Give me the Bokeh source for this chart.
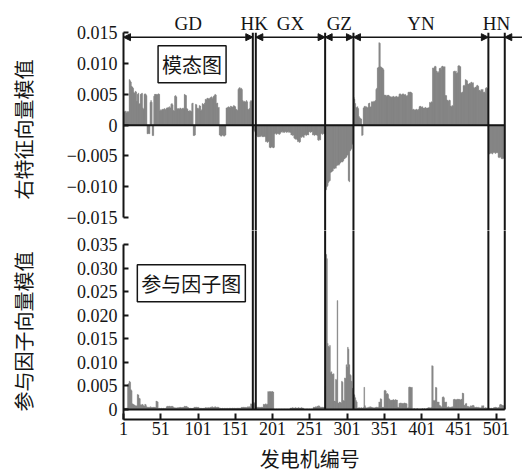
import numpy as np
from bokeh.plotting import figure
from bokeh.models import (ColumnDataSource, Range1d, FixedTicker, CustomJSTickFormatter,
                          Label, Arrow, NormalHead)
from bokeh.layouts import column, row
from bokeh.embed import file_html
from bokeh.resources import INLINE

# ---------------- data (values in units of 1e-4) ----------------
region_names = ["GD", "HK", "GX", "GZ", "YN", "HN"]

# right eigenvector (mode shape) magnitude per generator
gd_mode = [20, 22, 21, 23, 20, 22, 21, 22, 74, 72, 70, 63, 62, 60, 53, 52, 55, 54, 39, 50,
           52, 34, 35, 50, 51, 52, 28, 26, 50, 51, 50, 48, -14, -14, -13, -14, 37, 40,
           37, -17, -17, 47, 50, 50, 50, 49, 50, 51, 50, 23,
           25, 24, 26, 25, 26, 27, 25, 26, 28, 28, 29, 27, 30, 28, 34, 35, 33, 24, 23,
           47, 48, 46, 27, 26, 27, 26, 28, 27, 26, 27, 28, 26, 50, 49, 48, 27, 26, 23, 22,
           24, 23, 22, 35, 36, -17, -17, -16, 34, 33, 27, 28, 26, 32, 31, 23, 25,
           35, 34, 33, 36, 42, 41, 43, 44, 43, 42, 44, 45, 46, 43, 45, 47, 48, 50, 49, 35, 36,
           28, 29, -16, -17, -18, -17, -16, -17, -18, -17, -16, 28,
           28, 29, 30, 29, 28, 31, 30, 29, 30, 32, 31, 30, 26, 25, 24, 58, 60,
           61, 59, 60, 58, 40, 38, 39, 37, 38, 40, 38, 26, 25, 27, 38, 40, 39, 40]
hk_mode = [-5, -8, -10, -12]
gx_mode = [-16, -17, -19, -19, -18, -19, -18, -17, -19, -18, -19, -18, -19,
           -27, -26, -28, -27, -26, -36, -37, -36, -35, -36, -37, -36,
           -14, -13, -15, -14, -13, -14, -15, -14,
           -12, -11, -10, -12, -11, -12, -10, -11, -12, -11, -10, -12, -11, -12,
           -16, -15, -17, -16, -21, -22, -23, -22, -24, -27, -26, -28, -27,
           -19, -20, -18, -19, -20, -16, -15, -17, -16, -15, -16, -11, -10, -12, -11, -10,
           -16, -15, -17, -16, -15, -16, -17, -24, -25, -23, -24, -14, -13, -15, -14, -13, -14]
gz_mode = [-103, -105, -100, -98, -93, -91, -90, -77, -76, -75, -74, -70, -71, -69, -70,
           -66, -65, -64, -65, -63, -61, -60, -59, -60, -58, -55, -54, -53, -52,
           -49, -48, -90, -92, -42, -40, -38, -31, -29]
yn_mode = [45, 42, 35, 29, 28, 30, 27, 14, 12, 11, 10, -17, -16, 28, 30, 31, 29, 30,
           28, 29, 35, 36, 29, 30, 38, 38, 37, 39, 38, 40, 58, 60, 93, 94, 134, 133, 95,
           94, 93, 92, 90, 49, 48, 49, 47, 48, 49, 48, 47, 46,
           46, 45, 46, 47, 46, 45, 46, 47, 46, 45, 46, 50, 51, 50, 49, 50, 51, 50, 49, 50,
           48, 47, 48, 53, 54, 53, 54, 53, 52, 25, 26, 25, 24, 25, 26, 25, 24, 26,
           30, 31, 30, 29, 30, 28, 27, 28, 29, 28, 27, 28, 28, 29, 37, 36, 38, 37,
           93, 92, 94, 96, 95, 88, 85, 87, 85, 92, 93, 90, 95, 96, 95, 94, 95, 48,
           48, 41, 40, 39, 41, 40, 31, 30, 32, 31, 87, 88, 86, 88, 84, 85, 96, 97, 96, 95,
           53, 52, 54, 64, 65, 63, 74, 73, 72, 67, 66, 68, 67, 69, 70, 68, 69,
           61, 60, 62, 61, 64, 65, 63, 56, 57, 55, 58, 57, 58, 53, 54, 52, 60, 61, 59, 60]
hn_mode = [-46, -47, -45, -46, -45, -47, -44, -45, -44, -46, -45, -44, -45,
           -52, -53, -51, -52, -54, -55, -53, -54, -55]

# participation factor magnitude per generator
gd_pf = [2, 3, 3, 2, 3, 3, 53, 55, 60, 58, 42, 40, 12, 11, 10, 9, 8, 7, 8, 32, 31,
         24, 23, 10, 9, 11, 10, 8, 7, 11, 10, 6, 5, 4, 5, 4, 6, 4, 5, 4, 5, 4, 5, 4,
         18, 17, 16, 2, 3, 2, 2, 3, 2, 2, 3, 2, 2, 3, 6, 7, 6, 7, 7, 6, 7, 6, 7, 5,
         3, 4, 3, 3, 4, 3, 4, 4, 5, 4, 4, 4, 5, 4, 7, 6, 7, 6, 5, 4, 3, 2, 3, 2, 3, 2, 3,
         5, 4, 5, 5, 4, 5, 4, 2, 3, 2, 3, 2, 3, 2, 3, 4, 3, 4, 3, 4, 3, 4, 5,
         5, 6, 5, 4, 5, 6, 5, 4, 5, 5, 4, 2, 3, 2, 2, 3, 2, 2, 3, 2, 2, 3, 2, 2, 3, 2,
         3, 2, 3, 3, 2, 3, 2, 3, 2, 3, 3, 2, 3, 2, 4, 5, 4, 5, 4, 5, 4, 4, 5,
         6, 5, 6, 5, 12, 11, 10]
hk_pf = [12, 15, 13, 10]
gx_pf = [5, 4, 5, 5, 4, 5, 4, 5, 5, 4, 11, 10, 11, 12, 10, 11, 38, 37, 38, 38, 37, 38, 38, 37,
         1, 1, 0, 1, 1, 0, 1, 1, 1, 0, 1, 1, 0, 1, 1, 1, 0, 1, 1, 0, 1, 1,
         3, 3, 3, 4, 3, 3, 3, 4, 3, 3, 3, 4, 3, 3, 3, 4, 3, 3,
         1, 1, 0, 1, 1, 1, 0, 1, 1, 0, 1, 1, 1, 5, 4, 5, 6, 5, 7, 6, 8, 7, 5, 4, 5, 5, 4, 5, 4]
gz_pf = [50, 329, 320, 140, 134, 132, 136, 78, 80, 75, 74, 76, 18, 17, 64, 62, 231,
         14, 13, 16, 15, 14, 60, 58, 19, 18, 67, 66, 95, 90, 132, 128, 95, 74, 72, 60, 45, 40]
yn_pf = [33, 30, 25, 19, 16, 3, 3, 4, 3, 3, 4, 3, 3, 4, 47, 8, 4, 3, 4, 3, 5, 5, 6, 5, 5,
         4, 3, 4, 3, 4, 5, 5, 4, 5, 16, 15, 23, 22, 5, 4, 5, 40, 41, 39, 33, 34, 32, 23, 22,
         19, 20, 19, 20, 21, 20, 19, 21, 20, 20, 5, 4, 13, 13, 14, 13, 13, 12, 13, 14, 13, 13, 12,
         3, 4, 47, 48, 47, 46, 47, 1, 1, 2, 1, 1, 1, 2, 1, 1, 1, 1, 1, 1, 2, 1, 1, 2, 1, 1, 2,
         3, 4, 3, 4, 3, 4, 93, 92, 19, 18, 20, 47, 46, 16, 15, 16, 9, 8, 5, 6, 26, 27, 25,
         16, 15, 16, 5, 5, 6, 5, 4, 5, 5, 6, 5, 21, 22, 21, 20, 21, 22, 21, 22, 21, 20, 22, 21,
         35, 34, 9, 8, 12, 13, 6, 7, 6, 5, 6, 8, 7, 8, 9, 8, 5, 4, 5, 5, 4, 5, 3, 4, 3, 4,
         8, 7, 8, 3, 3, 4, 3, 3, 3]
hn_pf = [3, 3, 2, 3, 3, 2, 3, 4, 4, 5, 4, 4, 3, 4, 5, 10, 11, 10, 9, 8, 8, 9]

x_ticks = [1, 51, 101, 151, 201, 251, 301, 351, 401, 451, 501]
mode_ticks = [-0.015, -0.010, -0.005, 0.0, 0.005, 0.010, 0.015]
pf_ticks = [0.0, 0.005, 0.010, 0.015, 0.020, 0.025, 0.030, 0.035]

mode_parts = [gd_mode, hk_mode, gx_mode, gz_mode, yn_mode, hn_mode]
pf_parts = [gd_pf, hk_pf, gx_pf, gz_pf, yn_pf, hn_pf]
region_sizes = [len(p) for p in mode_parts]
mode_vals = [v * 1e-4 for part in mode_parts for v in part]
pf_vals = [v * 1e-4 for part in pf_parts for v in part]
gen_ids = list(range(1, len(mode_vals) + 1))

boundaries = [float(b) for b in (np.cumsum(region_sizes) + 0.5)]
starts = [1.0] + boundaries[:-1]
centers = [(a + b) / 2 for a, b in zip(starts, boundaries)]

src = ColumnDataSource(dict(x=gen_ids, mode=mode_vals, pf=pf_vals))

# ---------------- styling / layout constants ----------------
SERIF = "Liberation Serif"
CJK = "Noto Sans CJK SC"
BAR = "#7e7e7e"
INK = "#151515"
TOTAL_W = 522
TOTAL_H = 473
STRIP = 46          # left strip holding the rotated y titles
LEFT = 123          # page x of the plot frames
W = TOTAL_W - STRIP
PX_PER_GEN = 0.7454
PX_PER_MODE = 6157.0

xr = Range1d(1, 1 + (TOTAL_W - LEFT) / PX_PER_GEN)

fmt = CustomJSTickFormatter(code="""
if (Math.abs(tick) < 1e-12) { return "0"; }
const s = Math.abs(tick).toFixed(3);
return (tick < 0 ? "\u2212" : "") + s;
""")


def style_yaxis(ax, ticks, bounds):
    ax.ticker = FixedTicker(ticks=ticks)
    ax.formatter = fmt
    ax.bounds = bounds
    ax.major_label_text_font = SERIF
    ax.major_label_text_font_size = "18px"
    ax.major_label_text_color = INK
    ax.major_label_standoff = 6
    ax.axis_line_width = 2
    ax.axis_line_color = INK
    ax.major_tick_line_width = 2
    ax.major_tick_line_color = INK
    ax.major_tick_in = 5
    ax.major_tick_out = 0
    ax.minor_tick_line_color = None


def base_fig(width, height, xrange, yr, **kw):
    p = figure(width=width, height=height, x_range=xrange, y_range=yr, title=None,
               output_backend="svg", toolbar_location=None, **kw)
    p.outline_line_color = None
    p.xgrid.grid_line_color = None
    p.ygrid.grid_line_color = None
    p.background_fill_color = "white"
    p.border_fill_color = "white"
    return p


# ---------------- top: mode shape ----------------
p1 = base_fig(W, 230, xr, Range1d(-0.01711, 0.015 + 32.3 / PX_PER_MODE),
              x_axis_location=None, min_border_left=LEFT - STRIP, min_border_right=0,
              min_border_top=0, min_border_bottom=0)
style_yaxis(p1.yaxis[0], mode_ticks, (-0.015, 0.015))

p1.vbar(x="x", top="mode", bottom=0, width=1.0, source=src, fill_color=BAR,
        line_color=BAR, line_width=0.4)
p1.segment(x0=[1], y0=[0], x1=[boundaries[-1]], y1=[0], line_width=2, line_color=INK)
nb = len(boundaries)
p1.segment(x0=boundaries, y0=[0.015] * nb, x1=boundaries, y1=[-0.03] * nb,
           line_width=2, line_color=INK)

y_arrow = 0.015 - 4.4 / PX_PER_MODE
y_name = 0.015 + 9.5 / PX_PER_MODE


def head():
    return NormalHead(size=7, fill_color=INK, line_color=INK, line_width=1)


for i, name in enumerate(region_names):
    p1.add_layout(Label(x=centers[i], y=y_name, text=name, text_align="center",
                        text_baseline="alphabetic", text_font=SERIF, text_font_size="19px",
                        text_color=INK))
    if name == "HK":
        continue
    if name == "HN":
        p1.add_layout(Arrow(start=None, end=None, x_start=starts[i], y_start=y_arrow,
                            x_end=boundaries[i], y_end=y_arrow, line_width=1.5, line_color=INK))
        p1.add_layout(Arrow(start=None, end=head(), x_start=xr.end, y_start=y_arrow,
                            x_end=boundaries[i], y_end=y_arrow, line_width=1.5, line_color=INK))
        continue
    p1.add_layout(Arrow(start=head(), end=head(), x_start=starts[i], y_start=y_arrow,
                        x_end=boundaries[i], y_end=y_arrow, line_width=1.5, line_color=INK))

p1.add_layout(Label(x=93, y=0.0099, text="模态图", text_align="center", text_baseline="middle",
                    text_font=CJK, text_font_size="20px", text_color=INK,
                    border_line_color=INK, border_line_width=1.5,
                    background_fill_color="white", padding=4))

# ---------------- bottom: participation factor ----------------
p2 = base_fig(W, 213, xr, Range1d(-0.00212, 0.03797), min_border_left=LEFT - STRIP,
              min_border_right=0, min_border_top=0, min_border_bottom=24)
style_yaxis(p2.yaxis[0], pf_ticks, (-0.00212, 0.035))

xa = p2.xaxis[0]
xa.ticker = FixedTicker(ticks=x_ticks)
xa.bounds = (1, 513.5)
xa.major_label_text_font = SERIF
xa.major_label_text_font_size = "18px"
xa.major_label_text_color = INK
xa.major_label_standoff = 2
xa.axis_line_width = 2
xa.axis_line_color = INK
xa.major_tick_line_width = 2
xa.major_tick_line_color = INK
xa.major_tick_in = 6
xa.major_tick_out = 0
xa.minor_tick_line_color = None

p2.vbar(x="x", top="pf", bottom=0, width=1.0, source=src, fill_color=BAR,
        line_color=BAR, line_width=0.4)
p2.segment(x0=[1], y0=[0], x1=[boundaries[-1]], y1=[0], line_width=2, line_color=INK)
p2.segment(x0=boundaries, y0=[0] * nb, x1=boundaries, y1=[0.05] * nb,
           line_width=2, line_color=INK)

p2.add_layout(Label(x=92, y=0.0268, text="参与因子图", text_align="center", text_baseline="middle",
                    text_font=CJK, text_font_size="20px", text_color=INK,
                    border_line_color=INK, border_line_width=1.5,
                    background_fill_color="white", padding=4))

# ---------------- footer strip: x-axis title ----------------
pfoot = base_fig(W, TOTAL_H - 230 - 213, xr, Range1d(0, 1), x_axis_location=None,
                 y_axis_location=None, min_border_left=LEFT - STRIP, min_border_right=0,
                 min_border_top=0, min_border_bottom=0)
pfoot.add_layout(Label(x=(x_ticks[0] + x_ticks[-1]) / 2, y=0.5, text="发电机编号",
                       text_align="center", text_baseline="middle", text_font=CJK,
                       text_font_size="20px", text_color=INK))

# ---------------- left strip: rotated y-axis titles ----------------
ps = base_fig(STRIP, TOTAL_H, Range1d(0, STRIP), Range1d(0, TOTAL_H), x_axis_location=None,
              y_axis_location=None, min_border=0)
ps.add_layout(Label(x=23, y=TOTAL_H - 129, text="右特征向量模值", angle=90, angle_units="deg",
                    text_align="center", text_baseline="middle", text_font=CJK,
                    text_font_size="20px", text_color=INK))
ps.add_layout(Label(x=23, y=TOTAL_H - 331, text="参与因子向量模值", angle=90, angle_units="deg",
                    text_align="center", text_baseline="middle", text_font=CJK,
                    text_font_size="20px", text_color=INK))

layout = row(ps, column(p1, p2, pfoot, spacing=0), spacing=0)
open("out.html", "w").write(file_html(layout, INLINE))
